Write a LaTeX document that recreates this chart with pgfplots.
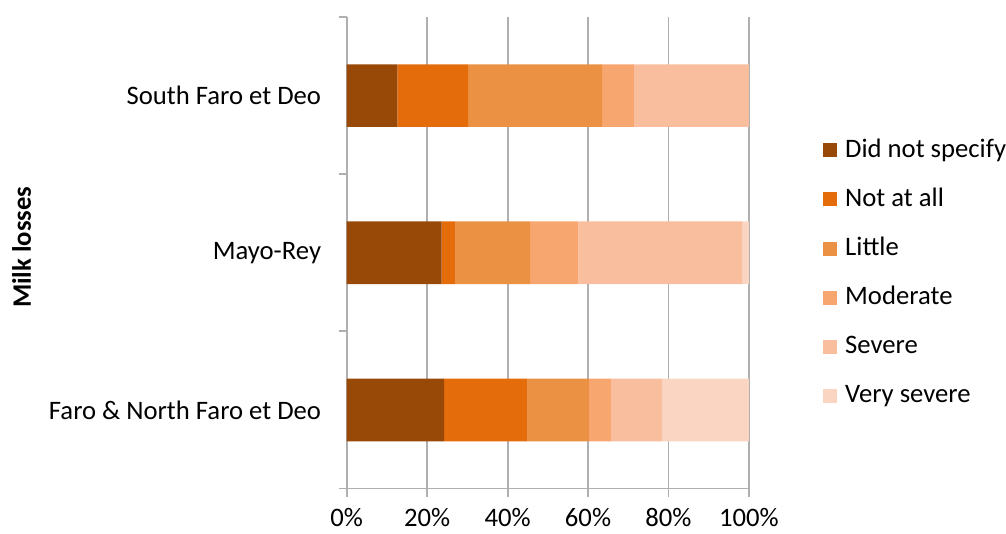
\documentclass[border=0pt]{standalone}
\usepackage{pgfplots}
\pgfplotsset{compat=1.18}
\usepackage{fontspec}
\setmainfont{Carlito}
\definecolor{c1}{RGB}{152,72,7}
\definecolor{c2}{RGB}{228,108,10}
\definecolor{c3}{RGB}{235,145,68}
\definecolor{c4}{RGB}{247,166,111}
\definecolor{c5}{RGB}{249,190,158}
\definecolor{c6}{RGB}{250,213,194}
\definecolor{gl}{RGB}{175,175,175}
\newcommand{\fs}{\fontsize{20}{24}\selectfont}
\begin{document}
\begin{tikzpicture}
\path[use as bounding box] (-260pt,-34.1pt) rectangle (494.5pt,366.4pt);
\begin{axis}[
  scale only axis,
  width=301.7pt, height=353.6pt,
  xbar stacked, bar width=47pt,
  xmin=0, xmax=100, ymin=-0.5, ymax=2.5,
  axis x line*=bottom, axis y line*=left,
  axis line style={draw=gl, line width=1.4pt},
  xtick={0,20,40,60,80,100},
  xticklabels={0\%,20\%,40\%,60\%,80\%,100\%},
  ytick={0,1,2},
  yticklabels={Faro \& North Faro et Deo, Mayo-Rey, South Faro et Deo},
  minor ytick={-0.5,0.5,1.5,2.5},
  major tick length=6pt, minor tick length=6pt,
  tick align=outside,
  y tick style={draw=gl, line width=1.4pt},
  major y tick style={draw=none},
  x tick style={draw=gl, line width=1.4pt},
  xmajorgrids, grid style={draw=gl, line width=1.4pt},
  tick label style={font=\fs, text=black},
  yticklabel style={inner sep=0pt, xshift=-13pt},
  xticklabel style={inner sep=0pt, text depth=0pt, yshift=-8.5pt},
  ylabel={Milk losses},
  ylabel style={font=\fs\bfseries, at={(axis description cs:-0.808,0.512)}, anchor=center},
  legend style={draw=none, fill=none, font=\fs, at={(axis description cs:1.174,0.457)}, anchor=west,
    nodes={inner sep=0pt, text height=14pt, text depth=4pt, anchor=west}, row sep=18.8pt, column sep=6pt},
  legend cell align=left,
  legend image code/.code={\path[#1,draw=none] (0pt,-5.25pt) rectangle (10.5pt,5.25pt);},
]
\addplot[fill=c1, draw=none] coordinates {(24.2,0) (23.6,1) (12.6,2)};
\addplot[fill=c2, draw=none] coordinates {(20.8,0) (3.5,1) (17.6,2)};
\addplot[fill=c3, draw=none] coordinates {(15.2,0) (18.5,1) (33.3,2)};
\addplot[fill=c4, draw=none] coordinates {(5.5,0) (12.0,1) (7.9,2)};
\addplot[fill=c5, draw=none] coordinates {(12.7,0) (40.7,1) (28.6,2)};
\addplot[fill=c6, draw=none] coordinates {(21.6,0) (1.7,1) (0,2)};
\legend{Did not specify, Not at all, Little, Moderate, Severe, Very severe}
\end{axis}
\end{tikzpicture}
\end{document}
